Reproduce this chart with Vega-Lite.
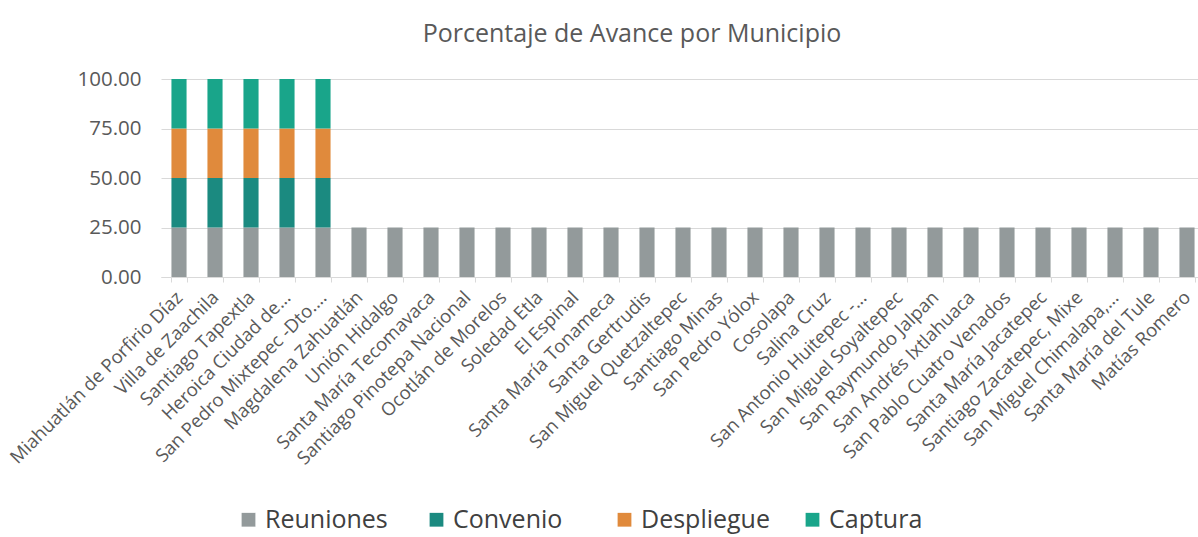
{
  "$schema": "https://vega.github.io/schema/vega-lite/v6.json",
  "autosize": {"type": "none"},
  "padding": {"left": 161, "top": 79, "right": 0, "bottom": 260},
  "width": 1044,
  "height": 198,
  "background": "white",
  "title": {
    "text": "Porcentaje de Avance por Municipio",
    "font": "Open Sans",
    "fontSize": 25,
    "fontWeight": "normal",
    "color": "#595959",
    "anchor": "middle",
    "dx": -51,
    "offset": 22
  },
  "data": {
    "values": [
      {"municipio": "Miahuatlán de Porfirio Díaz", "Reuniones": 25, "Convenio": 25, "Despliegue": 25, "Captura": 25},
      {"municipio": "Villa de Zaachila", "Reuniones": 25, "Convenio": 25, "Despliegue": 25, "Captura": 25},
      {"municipio": "Santiago Tapextla", "Reuniones": 25, "Convenio": 25, "Despliegue": 25, "Captura": 25},
      {"municipio": "Heroica Ciudad de...", "Reuniones": 25, "Convenio": 25, "Despliegue": 25, "Captura": 25},
      {"municipio": "San Pedro Mixtepec -Dto....", "Reuniones": 25, "Convenio": 25, "Despliegue": 25, "Captura": 25},
      {"municipio": "Magdalena Zahuatlán", "Reuniones": 25, "Convenio": 0, "Despliegue": 0, "Captura": 0},
      {"municipio": "Unión Hidalgo", "Reuniones": 25, "Convenio": 0, "Despliegue": 0, "Captura": 0},
      {"municipio": "Santa María Tecomavaca", "Reuniones": 25, "Convenio": 0, "Despliegue": 0, "Captura": 0},
      {"municipio": "Santiago Pinotepa Nacional", "Reuniones": 25, "Convenio": 0, "Despliegue": 0, "Captura": 0},
      {"municipio": "Ocotlán de Morelos", "Reuniones": 25, "Convenio": 0, "Despliegue": 0, "Captura": 0},
      {"municipio": "Soledad Etla", "Reuniones": 25, "Convenio": 0, "Despliegue": 0, "Captura": 0},
      {"municipio": "El Espinal", "Reuniones": 25, "Convenio": 0, "Despliegue": 0, "Captura": 0},
      {"municipio": "Santa María Tonameca", "Reuniones": 25, "Convenio": 0, "Despliegue": 0, "Captura": 0},
      {"municipio": "Santa Gertrudis", "Reuniones": 25, "Convenio": 0, "Despliegue": 0, "Captura": 0},
      {"municipio": "San Miguel Quetzaltepec", "Reuniones": 25, "Convenio": 0, "Despliegue": 0, "Captura": 0},
      {"municipio": "Santiago Minas", "Reuniones": 25, "Convenio": 0, "Despliegue": 0, "Captura": 0},
      {"municipio": "San Pedro Yólox", "Reuniones": 25, "Convenio": 0, "Despliegue": 0, "Captura": 0},
      {"municipio": "Cosolapa", "Reuniones": 25, "Convenio": 0, "Despliegue": 0, "Captura": 0},
      {"municipio": "Salina Cruz", "Reuniones": 25, "Convenio": 0, "Despliegue": 0, "Captura": 0},
      {"municipio": "San Antonio Huitepec -...", "Reuniones": 25, "Convenio": 0, "Despliegue": 0, "Captura": 0},
      {"municipio": "San Miguel Soyaltepec", "Reuniones": 25, "Convenio": 0, "Despliegue": 0, "Captura": 0},
      {"municipio": "San Raymundo Jalpan", "Reuniones": 25, "Convenio": 0, "Despliegue": 0, "Captura": 0},
      {"municipio": "San Andrés Ixtlahuaca", "Reuniones": 25, "Convenio": 0, "Despliegue": 0, "Captura": 0},
      {"municipio": "San Pablo Cuatro Venados", "Reuniones": 25, "Convenio": 0, "Despliegue": 0, "Captura": 0},
      {"municipio": "Santa María Jacatepec", "Reuniones": 25, "Convenio": 0, "Despliegue": 0, "Captura": 0},
      {"municipio": "Santiago Zacatepec, Mixe", "Reuniones": 25, "Convenio": 0, "Despliegue": 0, "Captura": 0},
      {"municipio": "San Miguel Chimalapa,...", "Reuniones": 25, "Convenio": 0, "Despliegue": 0, "Captura": 0},
      {"municipio": "Santa María del Tule", "Reuniones": 25, "Convenio": 0, "Despliegue": 0, "Captura": 0},
      {"municipio": "Matías Romero", "Reuniones": 25, "Convenio": 0, "Despliegue": 0, "Captura": 0}
    ]
  },
  "transform": [
    {"fold": ["Reuniones", "Convenio", "Despliegue", "Captura"], "as": ["etapa", "valor"]},
    {"calculate": "indexof(['Reuniones','Convenio','Despliegue','Captura'], datum.etapa)", "as": "orden"}
  ],
  "mark": {"type": "bar"},
  "encoding": {
    "x": {
      "field": "municipio",
      "type": "nominal",
      "sort": null,
      "title": null,
      "scale": {"paddingInner": 0.58, "paddingOuter": 0.29},
      "axis": {
        "labelAngle": -45,
        "labelAlign": "right",
        "labelBaseline": "middle",
        "labelFont": "Open Sans",
        "labelFontSize": 18.5,
        "labelColor": "#595959",
        "labelPadding": 12,
        "labelLimit": 400,
        "labelOverlap": false,
        "domainColor": "#d9d9d9",
        "tickColor": "#d9d9d9",
        "tickSize": 5,
        "tickBand": "extent",
        "grid": false
      }
    },
    "y": {
      "field": "valor",
      "type": "quantitative",
      "stack": "zero",
      "title": null,
      "scale": {"domain": [0, 100]},
      "axis": {
        "values": [0, 25, 50, 75, 100],
        "format": ".2f",
        "labelFont": "Open Sans",
        "labelFontSize": 20.5,
        "labelColor": "#595959",
        "labelPadding": 20,
        "domain": false,
        "ticks": false,
        "gridColor": "#d9d9d9",
        "gridWidth": 1
      }
    },
    "color": {
      "field": "etapa",
      "type": "nominal",
      "scale": {
        "domain": ["Reuniones", "Convenio", "Despliegue", "Captura"],
        "range": ["#939a9b", "#1b8a80", "#e08a3c", "#19a58a"]
      },
      "legend": {
        "title": null,
        "orient": "none",
        "direction": "horizontal",
        "legendX": 75,
        "legendY": 428,
        "columns": 4,
        "gridAlign": "all",
        "columnPadding": 30,
        "symbolType": "square",
        "symbolSize": 190,
        "symbolStrokeWidth": 0,
        "labelFont": "Open Sans",
        "labelFontSize": 25,
        "labelColor": "#404040",
        "labelOffset": 4,
        "labelLimit": 300
      }
    },
    "order": {"field": "orden", "type": "quantitative"}
  },
  "config": {"view": {"stroke": null}}
}
